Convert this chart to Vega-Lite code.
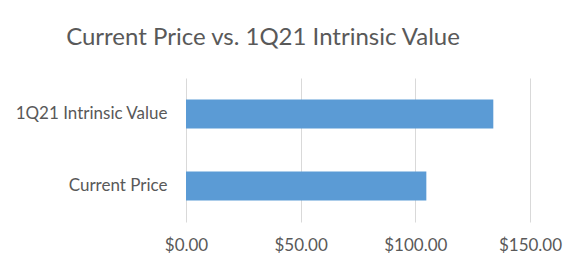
{
  "$schema": "https://vega.github.io/schema/vega-lite/v6.json",
  "autosize": "none",
  "width": 344,
  "height": 144,
  "padding": {"left": 186, "top": 78, "right": 54, "bottom": 50},
  "background": "white",
  "title": {
    "text": "Current Price vs. 1Q21 Intrinsic Value",
    "font": "Lato",
    "fontSize": 24,
    "fontWeight": "normal",
    "color": "#595959",
    "anchor": "middle",
    "frame": "group",
    "dx": -95,
    "offset": 28
  },
  "data": {
    "values": [
      {"label": "1Q21 Intrinsic Value", "value": 134.0},
      {"label": "Current Price", "value": 104.8}
    ]
  },
  "mark": {"type": "bar", "color": "#5B9BD5"},
  "encoding": {
    "y": {
      "field": "label",
      "type": "nominal",
      "sort": ["1Q21 Intrinsic Value", "Current Price"],
      "scale": {"paddingInner": 0.6, "paddingOuter": 0.3},
      "axis": {
        "title": null,
        "domain": false,
        "ticks": false,
        "labelFont": "Lato",
        "labelFontSize": 17,
        "labelColor": "#595959",
        "labelPadding": 19
      }
    },
    "x": {
      "field": "value",
      "type": "quantitative",
      "scale": {"domain": [0, 150], "nice": false},
      "axis": {
        "title": null,
        "values": [0, 50, 100, 150],
        "format": "$,.2f",
        "domain": false,
        "ticks": false,
        "grid": true,
        "gridColor": "#d9d9d9",
        "labelFlush": false,
        "labelFont": "Lato",
        "labelFontSize": 17,
        "labelColor": "#595959",
        "labelPadding": 15
      }
    }
  },
  "config": {"view": {"stroke": null}}
}
